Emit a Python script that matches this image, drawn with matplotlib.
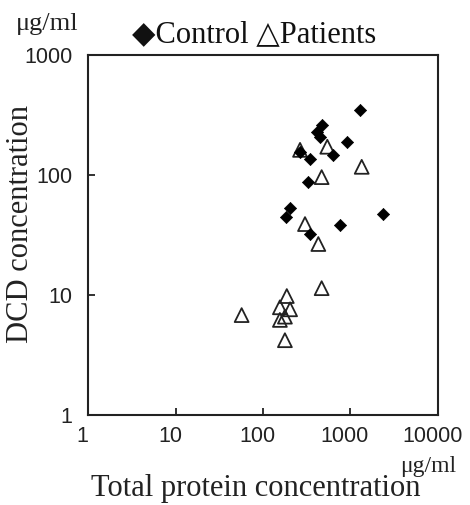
import numpy as np
import matplotlib
matplotlib.use("Agg")
import matplotlib.pyplot as plt
import matplotlib.transforms as mtransforms
from matplotlib.ticker import FixedLocator, NullLocator, FixedFormatter

# values (ug/ml)
control_protein = [1280, 468, 411, 448, 905, 265, 345, 635, 330, 204, 183, 2370, 759, 345]
control_dcd = [350, 261, 230, 208, 190, 155, 137, 147, 87, 53, 45, 47, 38, 32]
patient_protein = [265, 543, 1343, 468, 302, 429, 468, 187, 204, 156, 178, 156, 57, 178]
patient_dcd = [162, 172, 117, 96, 39, 26.6, 11.4, 9.8, 7.6, 7.9, 6.6, 6.2, 6.8, 4.2]

x_ticks = [1, 10, 100, 1000, 10000]
y_ticks = [1, 10, 100, 1000]
series_names = ["Control", "Patients"]
unit = "\u03bcg/ml"
x_title = "Total protein concentration"
y_title = "DCD concentration"

serif = ["Liberation Serif", "DejaVu Serif", "DejaVu Sans"]
sans = ["Liberation Sans", "DejaVu Sans"]

fig = plt.figure(figsize=(4.7, 5.05), dpi=100)
ax = fig.add_axes([88 / 470, 90 / 505, 350 / 470, 360 / 505])

ax.scatter(patient_protein, patient_dcd, marker="^", s=10**2, facecolors="none",
           edgecolors="#222222", linewidths=1.3, zorder=3)
ax.scatter(control_protein, control_dcd, marker="D", s=6.2**2, c="black",
           edgecolors="black", linewidths=0.5, zorder=4)

ax.set_xscale("log")
ax.set_yscale("log")
ax.set_xlim(1, 10000)
ax.set_ylim(1, 1000)
ax.xaxis.set_major_locator(FixedLocator(x_ticks))
ax.yaxis.set_major_locator(FixedLocator(y_ticks))
ax.xaxis.set_major_formatter(FixedFormatter([str(v) for v in x_ticks]))
ax.yaxis.set_major_formatter(FixedFormatter([str(v) for v in y_ticks]))
ax.xaxis.set_minor_locator(NullLocator())
ax.yaxis.set_minor_locator(NullLocator())

for sp in ax.spines.values():
    sp.set_linewidth(1.5)
    sp.set_color("#222222")
ax.tick_params(axis="both", direction="in", length=5, width=1.3, color="#222222")
ax.tick_params(axis="x", pad=8)
ax.tick_params(axis="y", pad=11)
for lab in ax.get_xticklabels() + ax.get_yticklabels():
    lab.set_family(sans)
    lab.set_fontsize(15.5)
    lab.set_color("#222222")
# x labels sit a little left of their ticks in the original
shift = mtransforms.ScaledTranslation(-4 / 72, 0, fig.dpi_scale_trans)
for lab in ax.get_xticklabels():
    lab.set_transform(lab.get_transform() + shift)

ax.set_xlabel(x_title, family=serif, fontsize=22, color="#222222")
ax.xaxis.set_label_coords(0.48, -0.165)
ax.set_ylabel(y_title, family=serif, fontsize=22, color="#222222")
ax.yaxis.set_label_coords(-0.152, 0.53)

ax.text(-0.117, 1.086, unit, transform=ax.transAxes, ha="center", va="center",
        family=serif, fontsize=19, color="#222222")
ax.text(0.971, -0.144, unit, transform=ax.transAxes, ha="center", va="center",
        family=serif, fontsize=17, color="#222222")

legend_txt = "\u25c6" + series_names[0] + " \u25b3" + series_names[1]
ax.text(0.126, 1.036, legend_txt, transform=ax.transAxes, ha="left", va="baseline",
        family=serif, fontsize=22, color="#111111")

fig.savefig("out.png", dpi=100)
